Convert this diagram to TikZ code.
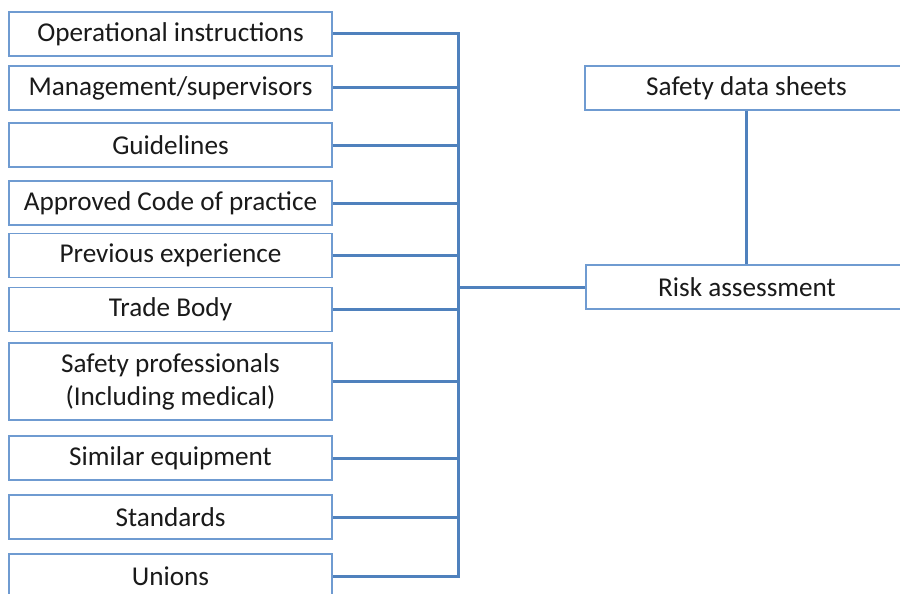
\documentclass[tikz,border=0pt]{standalone}
\usepackage{fontspec}
\setmainfont{Carlito}
\definecolor{boxblue}{HTML}{6F9BD1}
\definecolor{linkblue}{HTML}{4F81BD}
\definecolor{txt}{HTML}{1A1A1A}
\begin{document}
\begin{tikzpicture}[x=1pt,y=-1pt,
  src/.style={draw=boxblue, line width=1.3pt, fill=white, minimum width=323pt, minimum height=44pt,
    inner sep=0pt, text=txt, font=\fontsize{27.2}{33}\selectfont, align=center},
  conn/.style={draw=linkblue, line width=3pt, line join=miter}]
\useasboundingbox (0,0) rectangle (900,594);
\clip (0,0) rectangle (900,594);
\node[src] (b1) at (170.5,34) {Operational instructions};
\node[src] (b2) at (170.5,88) {Management/supervisors};
\node[src] (b3) at (170.5,145) {Guidelines};
\node[src] (b4) at (170.5,203) {Approved Code of practice};
\node[src] (b5) at (170.5,255.5) {Previous experience};
\node[src] (b6) at (170.5,309.5) {Trade Body};
\node[src, minimum height=77pt] (b7) at (170.5,381.5) {Safety professionals\\(Including medical)};
\node[src] (b8) at (170.5,458) {Similar equipment};
\node[src] (b9) at (170.5,517) {Standards};
\node[src] (b10) at (170.5,576) {Unions};
\node[src, minimum width=322pt] (risk) at (747,287) {Risk assessment};
\node[src, minimum width=323pt] (sds) at (746.5,88) {Safety data sheets};
\coordinate (bus) at (458,0);
\draw[conn] (b1.east) -- (b1.east -| bus) -- (b10.east -| bus) -- (b10.east);
\foreach \n in {b2,b3,b4,b5,b6,b7,b8,b9}
  \draw[conn] (\n.east) -- (\n.east -| bus);
\draw[conn] (risk.west -| bus) -- (risk.west);
\draw[conn] (sds.south) -- (sds.south |- risk.north);
\end{tikzpicture}
\end{document}
